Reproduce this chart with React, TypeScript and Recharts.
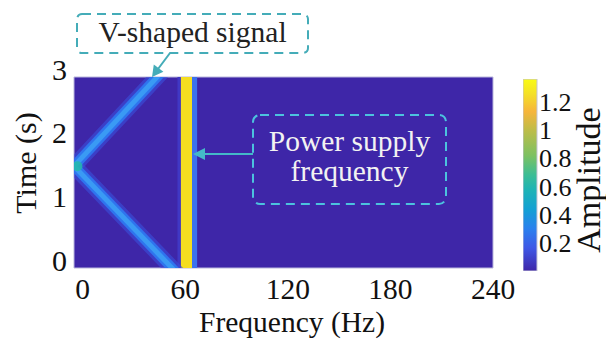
import { ComposedChart, BarChart, Bar, Line, Scatter, XAxis, YAxis, ReferenceArea } from "recharts";

const freqTicks = [0, 60, 120, 180, 240];
const timeTicks = [0, 1, 2, 3];
const ampTicks = [0.2, 0.4, 0.6, 0.8, 1, 1.2];
const ampMax = 1.364;

// V-shaped chirp: vertex at the low-frequency edge, arms run out of the plot
const upperArm = [
  { f: -5, t: 1.6 },
  { f: 47.1, t: 3.1 },
];
const lowerArm = [
  { f: -5, t: 1.6 },
  { f: 55.9, t: -0.1 },
];
const vertex = [{ f: -3, t: 1.6 }];

// 60 Hz mains line: [from, to, colour]
const mainsBands: [number, number, string][] = [
  [55.5, 57.5, "#4038c4"],
  [57.5, 64, "#f5de20"],
  [64, 67, "#3c72ee"],
];

const colorbar = [{ name: "amp", v: ampMax }];

const FONT = "Liberation Serif, DejaVu Serif, serif";
const BG = "#3e26a8";
const TEAL = "#44acb8";

const txt = (size: number, fill = "#111") => ({ fontSize: size, fontFamily: FONT, fill, style: { fontFamily: FONT } });

const TimeTick = ({ x, y, payload }: any) => (
  <text x={x} y={y - 8} dy="0.35em" textAnchor="end" {...txt(30)}>
    {payload.value}
  </text>
);

const FreqTick = ({ x, y, payload }: any) => (
  <text x={x} y={y + 31} textAnchor="middle" {...txt(29.5)}>
    {payload.value}
  </text>
);

const AmpTick = ({ x, y, payload }: any) => (
  <text x={x} y={y} dy="0.35em" textAnchor="start" {...txt(26)}>
    {payload.value}
  </text>
);

const freqLabel = () => (
  <text x={292} y={332} textAnchor="middle" {...txt(29.5)}>
    Frequency (Hz)
  </text>
);

const timeLabel = () => (
  <text transform="translate(36,163) rotate(-90)" textAnchor="middle" {...txt(30)}>
    Time (s)
  </text>
);

const ampLabel = () => (
  <text transform="translate(77,101) rotate(-90)" textAnchor="middle" {...txt(34)}>
    Amplitude
  </text>
);

const VertexGlow = ({ cx, cy }: any) => (
  <circle cx={cx} cy={cy} r={5} fill="#22b8aa" fillOpacity={0.85} />
);

export default function App() {
  return (
    <div style={{ position: "absolute", left: 0, top: 0, width: 606, height: 340, background: "#fff", fontFamily: FONT }}>
      <ComposedChart width={606} height={340} margin={{ top: 77, right: 113, bottom: 12, left: 0 }}>
        <XAxis
          type="number"
          dataKey="f"
          domain={[-5, 240]}
          ticks={freqTicks}
          allowDataOverflow
          height={60}
          tickLine={false}
          axisLine={false}
          tickSize={0}
          tickMargin={0}
          tick={<FreqTick />}
          label={freqLabel}
        />
        <YAxis
          type="number"
          dataKey="t"
          domain={[0, 3]}
          ticks={timeTicks}
          allowDataOverflow
          width={74}
          tickLine={false}
          axisLine={false}
          tickSize={0}
          tickMargin={7}
          tick={<TimeTick />}
          label={timeLabel}
        />
        <ReferenceArea x1={-5} x2={240} y1={0} y2={3} fill={BG} fillOpacity={1} stroke="#b9b6dc" strokeWidth={1} />
        {mainsBands.map(([a, b, c]) => (
          <ReferenceArea key={a} x1={a} x2={b} y1={0} y2={3} fill={c} fillOpacity={1} stroke="none" />
        ))}
        <Line data={upperArm} dataKey="t" type="linear" stroke="#3a50dc" strokeWidth={16} strokeOpacity={0.6} dot={false} activeDot={false} isAnimationActive={false} />
        <Line data={lowerArm} dataKey="t" type="linear" stroke="#3a50dc" strokeWidth={16} strokeOpacity={0.6} dot={false} activeDot={false} isAnimationActive={false} />
        <Line data={upperArm} dataKey="t" type="linear" stroke="#2f74ee" strokeWidth={10} dot={false} activeDot={false} isAnimationActive={false} />
        <Line data={lowerArm} dataKey="t" type="linear" stroke="#2f74ee" strokeWidth={10} dot={false} activeDot={false} isAnimationActive={false} />
        <Line data={upperArm} dataKey="t" type="linear" stroke="#3a9af4" strokeWidth={5} dot={false} activeDot={false} isAnimationActive={false} />
        <Line data={lowerArm} dataKey="t" type="linear" stroke="#3a9af4" strokeWidth={5} dot={false} activeDot={false} isAnimationActive={false} />
        <Scatter data={vertex} dataKey="t" shape={<VertexGlow />} isAnimationActive={false} />
      </ComposedChart>

      <div style={{ position: "absolute", left: 523, top: 79 }}>
        <BarChart width={83} height={192} data={colorbar} margin={{ top: 0, right: 0, bottom: 0, left: 0 }} barCategoryGap={0} style={{ overflow: "visible" }}>
          <defs>
            <linearGradient id="parula" x1="0" y1="0" x2="0" y2="1">
              <stop offset="0" stopColor="#f9fb15" />
              <stop offset="0.08" stopColor="#f4df28" />
              <stop offset="0.17" stopColor="#f6b53b" />
              <stop offset="0.27" stopColor="#bcbd49" />
              <stop offset="0.4" stopColor="#7cc162" />
              <stop offset="0.5" stopColor="#3bbd95" />
              <stop offset="0.58" stopColor="#1db3b6" />
              <stop offset="0.68" stopColor="#13a0d4" />
              <stop offset="0.78" stopColor="#2a80ee" />
              <stop offset="0.88" stopColor="#3f58e6" />
              <stop offset="1" stopColor="#3e26a8" />
            </linearGradient>
          </defs>
          <XAxis dataKey="name" hide />
          <YAxis
            orientation="right"
            type="number"
            domain={[0, ampMax]}
            ticks={ampTicks}
            width={69}
            tickLine={false}
            axisLine={false}
            tickSize={0}
            tickMargin={2}
            tick={<AmpTick />}
            label={ampLabel}
          />
          <Bar dataKey="v" fill="url(#parula)" stroke="#c4c4d4" strokeWidth={1} isAnimationActive={false} />
        </BarChart>
      </div>

      <svg width={606} height={340} style={{ position: "absolute", left: 0, top: 0, pointerEvents: "none" }}>
        <rect x={77} y={14} width={231} height={39} rx={5} fill="none" stroke={TEAL} strokeWidth={2} strokeDasharray="9 6" />
        <text x={192.5} y={42} textAnchor="middle" {...txt(29.5, "#222")}>
          V-shaped signal
        </text>
        <line x1={170} y1={53} x2={158} y2={69} stroke={TEAL} strokeWidth={2} />
        <polygon points="152,77 163.4,71.8 153.8,64.6" fill={TEAL} />

        <rect x={253} y={115} width={193} height={89} rx={7} fill="none" stroke="#4cc2de" strokeWidth={2} strokeDasharray="9 6" />
        <text x={349.5} y={151} textAnchor="middle" {...txt(29.5, "#f2f2f2")}>
          Power supply
        </text>
        <text x={349.5} y={181} textAnchor="middle" {...txt(29.5, "#f2f2f2")}>
          frequency
        </text>
        <line x1={253} y1={154} x2={203} y2={154} stroke="#44b8c8" strokeWidth={2} />
        <polygon points="193,154 205,148 205,160" fill="#44b8c8" />
      </svg>
    </div>
  );
}
